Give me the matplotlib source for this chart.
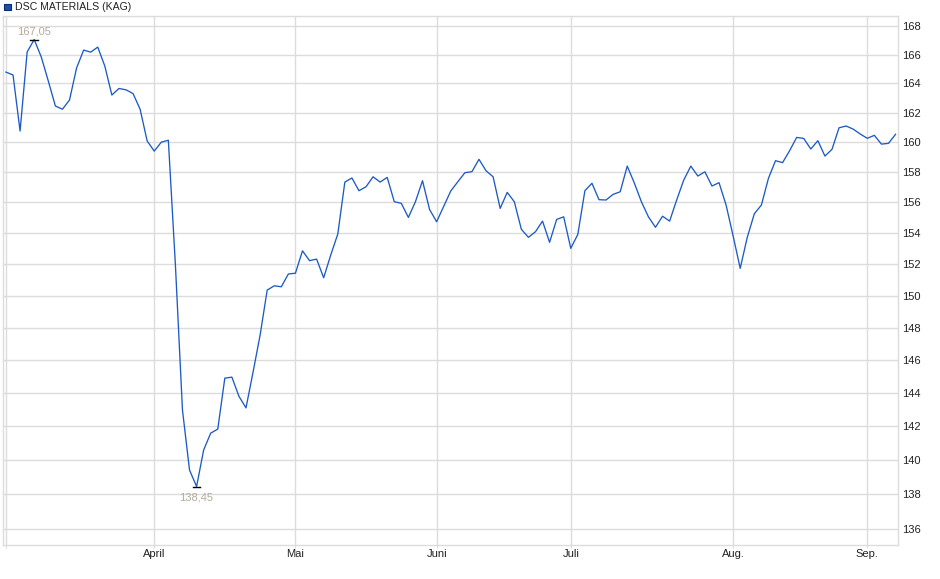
import matplotlib
matplotlib.use("Agg")
import matplotlib.pyplot as plt
from matplotlib.patches import Rectangle
from matplotlib.ticker import FixedLocator, NullLocator, FixedFormatter

plt.rcParams['font.family'] = ['Liberation Sans', 'DejaVu Sans']

# daily closing values (trading days, March to early September)
values = [
    164.78, 164.58, 160.75, 166.18, 167.05, 165.83, 164.16, 162.45, 162.23, 162.86,
    165.06, 166.31, 166.17, 166.52, 165.20, 163.20, 163.65, 163.56, 163.30, 162.23,
    160.08, 159.40, 160.00, 160.13, 151.95, 142.97, 139.41, 138.45, 140.59, 141.59,
    141.83, 144.90, 144.96, 143.80, 143.10, 145.27, 147.55, 150.36, 150.63, 150.57,
    151.38, 151.43, 152.86, 152.23, 152.33, 151.14, 152.59, 153.94, 157.34, 157.61,
    156.77, 157.03, 157.69, 157.34, 157.65, 156.05, 155.94, 155.02, 156.05, 157.43,
    155.54, 154.74, 155.74, 156.75, 157.36, 157.96, 158.03, 158.85, 158.09, 157.69,
    155.61, 156.66, 156.05, 154.25, 153.73, 154.09, 154.78, 153.41, 154.89, 155.06,
    153.02, 153.92, 156.77, 157.26, 156.18, 156.16, 156.53, 156.70, 158.40, 157.28,
    156.05, 155.06, 154.38, 155.10, 154.78, 156.16, 157.47, 158.40, 157.74, 158.02,
    157.08, 157.30, 155.83, 153.81, 151.74, 153.73, 155.26, 155.83, 157.59, 158.76,
    158.63, 159.43, 160.32, 160.25, 159.54, 160.10, 159.07, 159.52, 160.97, 161.09,
    160.88, 160.55, 160.26, 160.46, 159.87, 159.92, 160.53,
]

# index of first trading day of each month
month_pos = [0, 21, 41, 61, 80, 103, 122]
month_labels = ["", "April", "Mai", "Juni", "Juli", "Aug.", "Sep."]

y_ticks = list(range(136, 169, 2))

title = "DSC MATERIALS (KAG)"
line_color = "#1c5bc6"
grid_color = "#dcdcdc"
label_color = "#b5aa98"

fig = plt.figure(figsize=(9.4, 5.79), dpi=100)
W, H = 940, 579
ax = fig.add_axes([3 / W, 1 - 545 / H, 895 / W, 529 / H])

x = list(range(len(values)))
ax.plot(x, values, color=line_color, lw=0.95)

ax.set_yscale("log")
ax.set_ylim(135.09, 168.71)
ax.set_xlim(-0.42, 126.35)

ax.yaxis.set_major_locator(FixedLocator(y_ticks))
ax.yaxis.set_major_formatter(FixedFormatter([str(t) for t in y_ticks]))
ax.yaxis.set_minor_locator(NullLocator())
ax.yaxis.tick_right()
ax.tick_params(axis="y", length=0, pad=3, labelsize=8, colors="#222222")

ax.set_xticks(month_pos)
ax.set_xticklabels(month_labels)
ax.tick_params(axis="x", length=2, width=0.8, color=grid_color, pad=1,
               labelsize=8, labelcolor="#222222")

ax.grid(True, color=grid_color, lw=1.0)
ax.set_axisbelow(True)
for s in ax.spines.values():
    s.set_color(grid_color)
    s.set_linewidth(1.0)

# high / low markers
hi = values.index(max(values))
lo = values.index(min(values))
ax.plot([hi - 0.55, hi + 0.55], [values[hi]] * 2, color="black", lw=1.0)
ax.plot([lo - 0.55, lo + 0.55], [values[lo]] * 2, color="black", lw=1.0)
ax.annotate(f"{values[hi]:.2f}".replace(".", ","), (hi, values[hi]),
            xytext=(0, 2.5), textcoords="offset points", ha="center", va="bottom",
            fontsize=8, color=label_color)
ax.annotate(f"{values[lo]:.2f}".replace(".", ","), (lo, values[lo]),
            xytext=(0, -4.5), textcoords="offset points", ha="center", va="top",
            fontsize=8, color=label_color)

# legend square and title
fig.patches.append(Rectangle((4 / W, 1 - 10 / H), 6.5 / W, 6.5 / H,
                             transform=fig.transFigure, facecolor="#1a4fb5",
                             edgecolor="#0c2a6e", lw=0.8))
fig.text(15 / W, 1 - 6.5 / H, title, fontsize=7.6, va="center", ha="left",
         color="#222222")

fig.savefig("out.png", dpi=100)
